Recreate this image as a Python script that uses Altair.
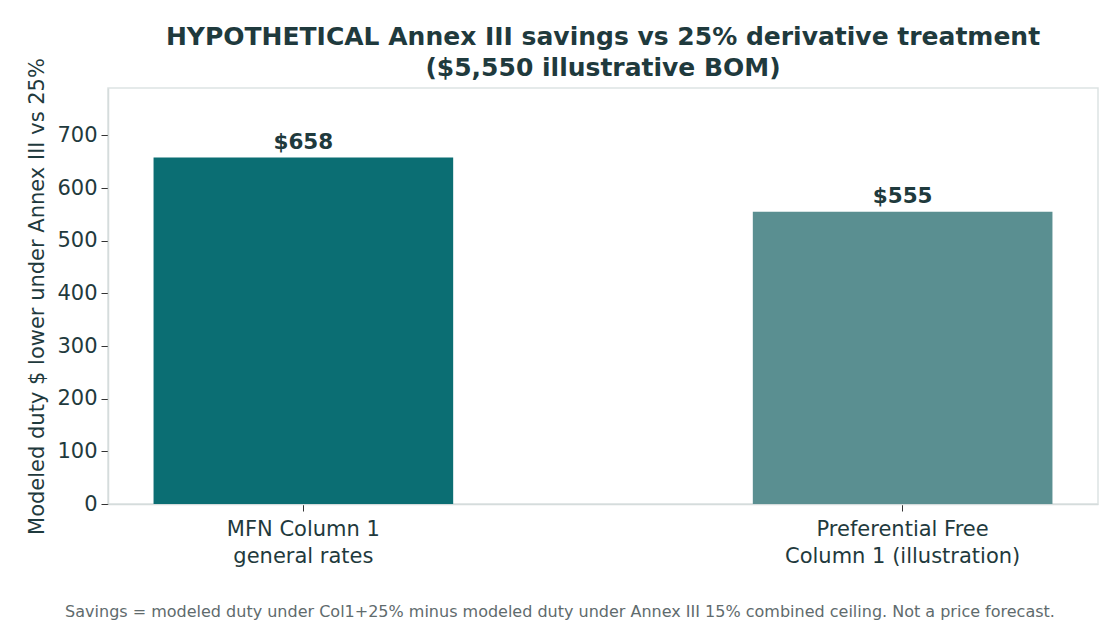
import altair as alt
import pandas as pd

categories = ["MFN Column 1\ngeneral rates", "Preferential Free\nColumn 1 (illustration)"]
savings = [658, 555]
bar_colors = ["#0b6e73", "#5a8f91"]

title_lines = ["HYPOTHETICAL Annex III savings vs 25% derivative treatment",
               "($5,550 illustrative BOM)"]
y_title = "Modeled duty $ lower under Annex III vs 25%"
footnote = ("Savings = modeled duty under Col1+25% minus modeled duty under "
            "Annex III 15% combined ceiling. Not a price forecast.")

INK = "#1f3a3d"
FONT = "DejaVu Sans"

df = pd.DataFrame({"category": categories, "savings": savings})

base = alt.Chart(df).encode(
    x=alt.X("category:N", sort=categories, title=None,
            scale=alt.Scale(paddingInner=0.5, paddingOuter=0.076),
            axis=alt.Axis(labelAngle=0, labelExpr="split(datum.label, '\\n')",
                          labelFontSize=21, labelLineHeight=27, labelPadding=7,
                          labelLimit=0, labelColor=INK, tickSize=7, tickColor="#333333",
                          domainColor="#d5dcdc", domainWidth=1.5)),
    y=alt.Y("savings:Q", title=y_title,
            scale=alt.Scale(domain=[0, 790], nice=False),
            axis=alt.Axis(values=list(range(0, 701, 100)), grid=False,
                          labelFontSize=21, labelColor=INK, labelPadding=4,
                          tickSize=7, tickColor="#333333",
                          domainColor="#d5dcdc", domainWidth=1.5,
                          titleFontSize=21, titleFontWeight="normal",
                          titleColor=INK, titlePadding=9)),
)

bars = base.mark_bar().encode(
    color=alt.Color("category:N", scale=alt.Scale(domain=categories, range=bar_colors),
                    legend=None)
)

labels = base.mark_text(dy=-4, baseline="bottom", fontSize=21.5, fontWeight="bold",
                        color=INK, font=FONT).encode(
    text=alt.Text("savings:Q", format="$,.0f")
)

note = alt.Chart(pd.DataFrame({"note": [footnote]})).mark_text(
    fontSize=16, color="#5f6b6d", font=FONT, baseline="middle", align="center"
).encode(x=alt.value(452), y=alt.value(524), text="note:N")

chart = alt.layer(bars, labels, note).properties(
    width=990, height=416,
    autosize=alt.AutoSizeParams(type="none"),
    padding={"left": 100, "top": 80, "right": 14, "bottom": 118},
    title=alt.TitleParams(title_lines, anchor="middle", fontSize=25, fontWeight="bold",
                          color=INK, font=FONT, lineHeight=31, offset=-23),
).configure(font=FONT).configure_view(stroke="#dde3e3", strokeWidth=1.5)

chart.save("out.html", embed_options={"renderer": "svg", "actions": False})
